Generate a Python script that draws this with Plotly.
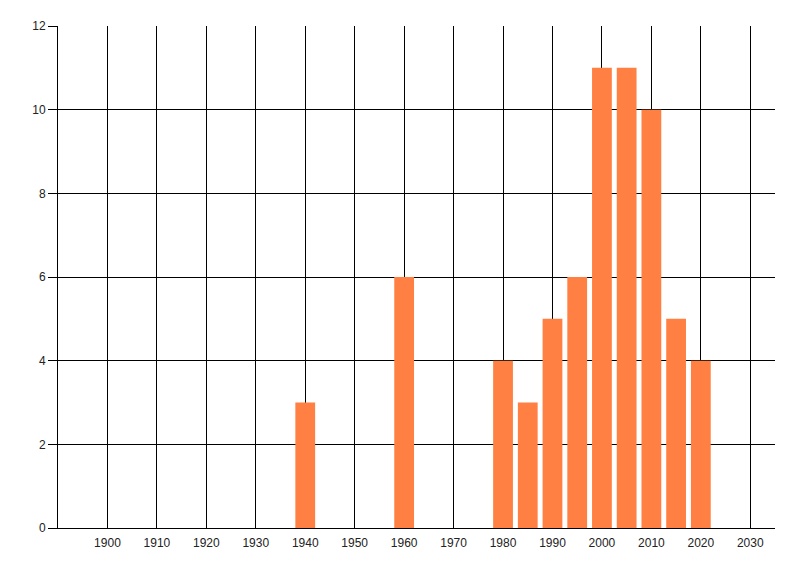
import plotly.graph_objects as go

# Данные: год (центр столбца) и количество
years = [1940, 1960, 1980, 1985, 1990, 1995, 2000, 2005, 2010, 2015, 2020]
counts = [3, 6, 4, 3, 5, 6, 11, 11, 10, 5, 4]

x_ticks = list(range(1900, 2031, 10))
y_ticks = [0, 2, 4, 6, 8, 10, 12]

BAR_COLOR = '#FF8042'

fig = go.Figure()

fig.add_trace(go.Bar(
    x=years,
    y=counts,
    width=4,
    marker=dict(color=BAR_COLOR, line=dict(width=0)),
    hovertemplate='%{x}: %{y}<extra></extra>'
))

# Размер учитывает отступ body страницы (8 px)
fig.update_layout(
    width=792,
    height=568,
    margin=dict(l=50, r=25, t=18, b=48),
    plot_bgcolor='white',
    paper_bgcolor='white',
    showlegend=False,
    font=dict(family='Liberation Sans, Arial, sans-serif', size=12, color='#222222'),
    xaxis=dict(
        range=[1890, 2035],
        tickvals=x_ticks,
        ticktext=[str(v) for v in x_ticks],
        showgrid=True,
        gridcolor='black',
        gridwidth=1,
        zeroline=False,
        showline=True,
        linecolor='black',
        linewidth=1,
        ticks='',
        ticklabelstandoff=4,
        automargin=False,
    ),
    yaxis=dict(
        range=[0, 12],
        tickvals=y_ticks,
        showgrid=True,
        gridcolor='black',
        gridwidth=1,
        zeroline=False,
        showline=True,
        linecolor='black',
        linewidth=1,
        ticks='outside',
        ticklen=9,
        tickcolor='black',
        automargin=False,
    ),
)

fig.write_html("out.html")
